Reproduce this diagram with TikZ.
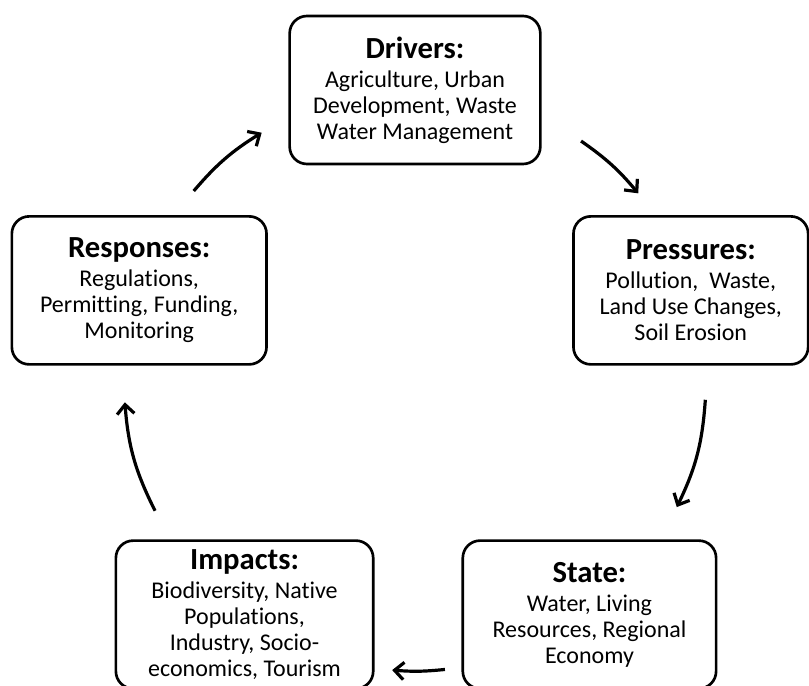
\documentclass[tikz,border=0pt]{standalone}
\usepackage{fontspec}
\setmainfont{Carlito}[Ligatures=NoCommon]
\usetikzlibrary{arrows.meta}
\newcommand\boxhead[1]{{\fontsize{23}{27}\selectfont\bfseries #1}}
\begin{document}
\begin{tikzpicture}[x=0.75pt,y=0.75pt,
    box/.style={draw,line width=2pt,rounded corners=13pt,minimum width=#1,
      minimum height=111pt,align=center,font=\fontsize{18}{19.5}\selectfont},
    cyc/.style={line width=2.4pt,-{Straight Barb[length=7pt,width=13pt]}}]
  \useasboundingbox (-415,-305) rectangle (394,380);
  \clip (-415,-305) rectangle (394,380);
  \draw
    (90:290) node[box=188pt] (drivers) {\boxhead{Drivers:}\\[2pt]
      Agriculture, Urban\\ Development, Waste\\ Water Management}
    (18:290) node[box=176pt] (pressures) {\boxhead{Pressures:}\\[2pt]
      Pollution,\ \ Waste,\\ Land Use Changes,\\ Soil Erosion}
    (-54:290) node[box=190pt,xshift=3pt] (state) {\boxhead{State:}\\[2pt]
      Water, Living\\ Resources, Regional\\ Economy}
    (-126:290) node[box=193pt] (impacts) {\boxhead{Impacts:}\\[2pt]
      Biodiversity, Native\\ Populations,\\ Industry, Socio-\\ economics, Tourism}
    (162:290) node[box=191pt] (responses) {\boxhead{Responses:}\\[2pt]
      Regulations,\\ Permitting, Funding,\\ Monitoring};
  \coordinate (d-out) at (55.2:291);
  \coordinate (p-in) at (39.9:291);
  \coordinate (p-out) at (-3.9:291);
  \coordinate (s-in) at (-25.9:291);
  \coordinate (s-out) at (-84.1:291);
  \coordinate (i-in) at (-94.5:291);
  \coordinate (i-out) at (206.7:291);
  \coordinate (r-in) at (184.4:291);
  \coordinate (r-out) at (139.5:291);
  \coordinate (d-in) at (121.8:291);
  \begin{scope}[cyc]
    \draw (d-out) to[bend left=7.65] (p-in);
    \draw (p-out) to[bend left=11] (s-in);
    \draw (s-out) to[bend left=5.2] (i-in);
    \draw (i-out) to[bend left=11.15] (r-in);
    \draw (r-out) to[bend left=8.85] (d-in);
  \end{scope}
\end{tikzpicture}
\end{document}
